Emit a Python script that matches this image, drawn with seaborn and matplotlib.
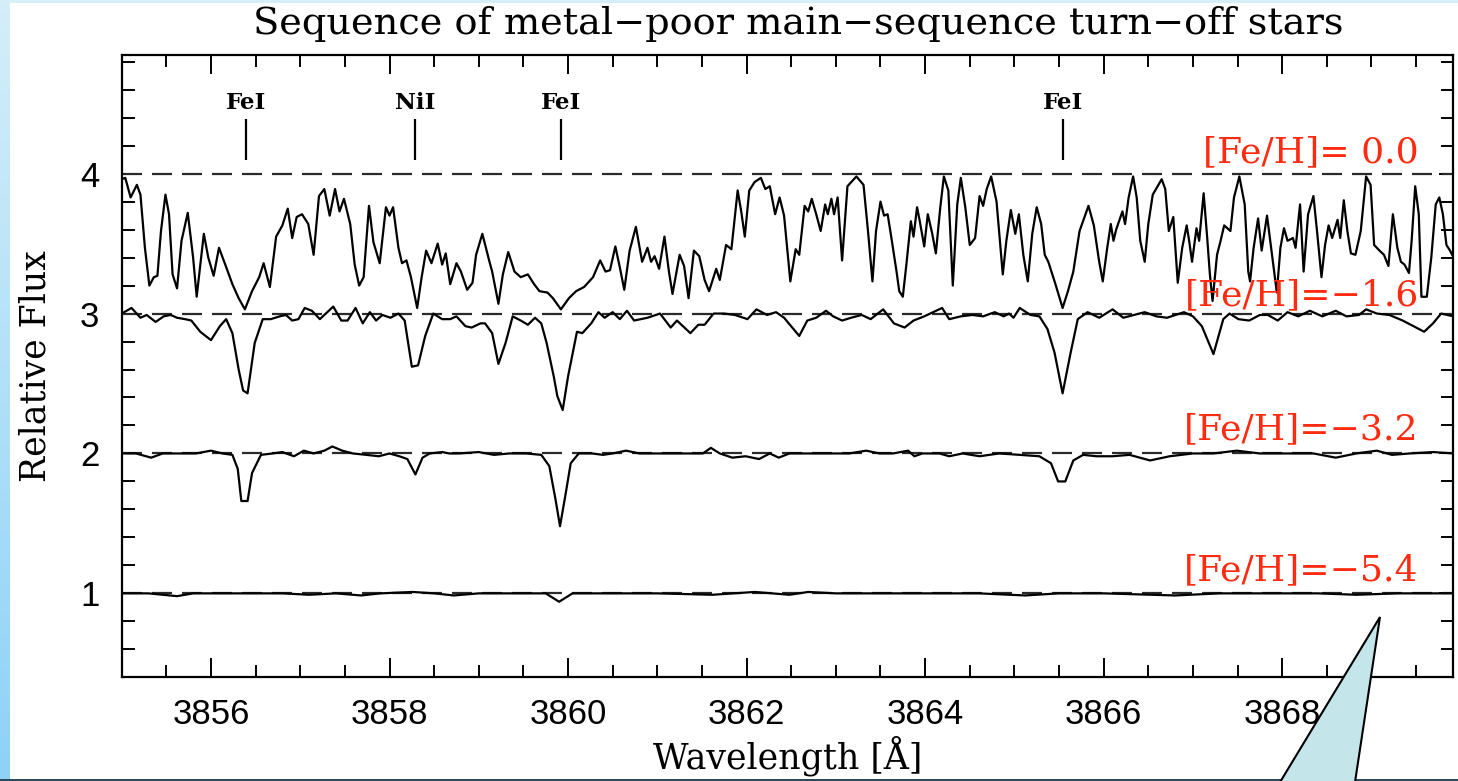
import numpy as np
import pandas as pd
import matplotlib
matplotlib.use("Agg")
import matplotlib.pyplot as plt
import seaborn as sns
from matplotlib.ticker import MultipleLocator, FormatStrFormatter
from matplotlib.patches import Polygon, Rectangle
from matplotlib.colors import LinearSegmentedColormap

# ---------------- data ----------------
wl_fe00 = [3855.00, 3855.04, 3855.10, 3855.17, 3855.21, 3855.26, 3855.31, 3855.36, 3855.40, 3855.44,
           3855.49, 3855.53, 3855.57, 3855.62, 3855.67, 3855.74, 3855.80, 3855.84, 3855.92, 3855.97,
           3856.03, 3856.09, 3856.16, 3856.24, 3856.31, 3856.38, 3856.46, 3856.54, 3856.59, 3856.66,
           3856.73, 3856.80, 3856.86, 3856.91, 3856.96, 3857.02, 3857.09, 3857.15, 3857.21, 3857.27,
           3857.33, 3857.39, 3857.44, 3857.49, 3857.56, 3857.61, 3857.66, 3857.71, 3857.77, 3857.82,
           3857.89, 3857.96, 3858.00, 3858.04, 3858.10, 3858.14, 3858.19, 3858.24, 3858.31, 3858.36,
           3858.41, 3858.47, 3858.54, 3858.59, 3858.63, 3858.68, 3858.75, 3858.80, 3858.87, 3858.93,
           3858.97, 3859.04, 3859.12, 3859.15, 3859.22, 3859.27, 3859.33, 3859.40, 3859.47, 3859.55,
           3859.62, 3859.68, 3859.77, 3859.83, 3859.92, 3860.01, 3860.09, 3860.18, 3860.28, 3860.36,
           3860.42, 3860.47, 3860.53, 3860.58, 3860.63, 3860.69, 3860.76, 3860.83, 3860.89, 3860.93,
           3860.97, 3861.02, 3861.08, 3861.13, 3861.17, 3861.25, 3861.30, 3861.35, 3861.41, 3861.47,
           3861.53, 3861.58, 3861.66, 3861.70, 3861.77, 3861.83, 3861.90, 3861.94, 3861.98, 3862.03,
           3862.09, 3862.16, 3862.21, 3862.26, 3862.32, 3862.37, 3862.42, 3862.49, 3862.55, 3862.59,
           3862.65, 3862.69, 3862.73, 3862.78, 3862.83, 3862.88, 3862.91, 3862.95, 3862.98, 3863.02,
           3863.07, 3863.13, 3863.23, 3863.31, 3863.36, 3863.41, 3863.45, 3863.50, 3863.54, 3863.58,
           3863.62, 3863.68, 3863.71, 3863.75, 3863.79, 3863.84, 3863.87, 3863.91, 3863.94, 3863.99,
           3864.03, 3864.08, 3864.12, 3864.17, 3864.21, 3864.26, 3864.31, 3864.36, 3864.40, 3864.45,
           3864.50, 3864.56, 3864.61, 3864.65, 3864.69, 3864.74, 3864.80, 3864.87, 3864.91, 3864.96,
           3865.01, 3865.05, 3865.10, 3865.15, 3865.20, 3865.25, 3865.30, 3865.34, 3865.38, 3865.46,
           3865.54, 3865.60, 3865.66, 3865.73, 3865.83, 3865.89, 3865.95, 3865.99, 3866.04, 3866.08,
           3866.11, 3866.14, 3866.21, 3866.24, 3866.28, 3866.33, 3866.37, 3866.41, 3866.46, 3866.50,
           3866.55, 3866.65, 3866.69, 3866.73, 3866.78, 3866.83, 3866.88, 3866.93, 3866.96, 3866.99,
           3867.04, 3867.07, 3867.12, 3867.16, 3867.19, 3867.22, 3867.27, 3867.31, 3867.35, 3867.42,
           3867.46, 3867.52, 3867.58, 3867.62, 3867.64, 3867.68, 3867.73, 3867.77, 3867.83, 3867.88,
           3867.94, 3867.98, 3868.02, 3868.06, 3868.12, 3868.15, 3868.20, 3868.24, 3868.29, 3868.35,
           3868.39, 3868.44, 3868.48, 3868.52, 3868.56, 3868.62, 3868.65, 3868.69, 3868.73, 3868.77,
           3868.82, 3868.88, 3868.94, 3868.99, 3869.03, 3869.09, 3869.14, 3869.19, 3869.24, 3869.29,
           3869.33, 3869.37, 3869.42, 3869.45, 3869.49, 3869.53, 3869.56, 3869.62, 3869.67, 3869.72,
           3869.76, 3869.80, 3869.84, 3869.88, 3869.92]
fx_fe00 = [0.96, 0.97, 0.83, 0.92, 0.85, 0.47, 0.20, 0.26, 0.27, 0.59,
           0.85, 0.71, 0.28, 0.18, 0.52, 0.72, 0.40, 0.12, 0.57, 0.40,
           0.27, 0.47, 0.35, 0.21, 0.11, 0.03, 0.16, 0.26, 0.36, 0.19,
           0.55, 0.63, 0.75, 0.54, 0.69, 0.71, 0.64, 0.42, 0.84, 0.89,
           0.70, 0.89, 0.73, 0.82, 0.64, 0.35, 0.20, 0.26, 0.77, 0.51,
           0.36, 0.76, 0.70, 0.76, 0.47, 0.36, 0.38, 0.26, 0.04, 0.26,
           0.45, 0.36, 0.50, 0.35, 0.43, 0.21, 0.36, 0.30, 0.17, 0.22,
           0.42, 0.57, 0.37, 0.30, 0.07, 0.28, 0.44, 0.30, 0.26, 0.28,
           0.21, 0.16, 0.15, 0.11, 0.03, 0.11, 0.16, 0.19, 0.26, 0.38,
           0.30, 0.31, 0.48, 0.33, 0.17, 0.45, 0.62, 0.37, 0.47, 0.37,
           0.41, 0.32, 0.55, 0.30, 0.14, 0.42, 0.34, 0.11, 0.45, 0.41,
           0.24, 0.16, 0.32, 0.24, 0.49, 0.46, 0.88, 0.73, 0.55, 0.88,
           0.94, 0.97, 0.89, 0.91, 0.71, 0.83, 0.70, 0.23, 0.46, 0.42,
           0.77, 0.73, 0.82, 0.71, 0.59, 0.78, 0.71, 0.82, 0.71, 0.83,
           0.38, 0.91, 0.98, 0.92, 0.59, 0.23, 0.59, 0.80, 0.70, 0.71,
           0.55, 0.30, 0.16, 0.12, 0.35, 0.66, 0.55, 0.76, 0.66, 0.48,
           0.71, 0.57, 0.43, 0.76, 0.98, 0.88, 0.20, 0.78, 0.97, 0.76,
           0.49, 0.54, 0.84, 0.77, 0.89, 0.98, 0.80, 0.28, 0.52, 0.74,
           0.57, 0.71, 0.42, 0.23, 0.57, 0.76, 0.64, 0.42, 0.37, 0.21,
           0.04, 0.16, 0.30, 0.59, 0.77, 0.63, 0.37, 0.23, 0.47, 0.64,
           0.52, 0.60, 0.73, 0.64, 0.83, 0.98, 0.83, 0.52, 0.37, 0.64,
           0.85, 0.96, 0.89, 0.59, 0.69, 0.22, 0.47, 0.63, 0.51, 0.37,
           0.61, 0.52, 0.86, 0.54, 0.28, 0.09, 0.42, 0.52, 0.63, 0.59,
           0.83, 0.98, 0.78, 0.30, 0.23, 0.47, 0.68, 0.45, 0.70, 0.45,
           0.15, 0.47, 0.61, 0.52, 0.54, 0.47, 0.78, 0.30, 0.71, 0.84,
           0.59, 0.26, 0.49, 0.63, 0.54, 0.67, 0.54, 0.81, 0.59, 0.43,
           0.42, 0.59, 0.98, 0.92, 0.49, 0.45, 0.42, 0.34, 0.71, 0.47,
           0.37, 0.35, 0.29, 0.52, 0.91, 0.71, 0.12, 0.12, 0.40, 0.78,
           0.83, 0.71, 0.49, 0.45, 0.40]

wl_fe16 = [3855.00, 3855.11, 3855.21, 3855.28, 3855.38, 3855.47, 3855.55, 3855.62, 3855.71, 3855.78,
           3855.88, 3856.00, 3856.10, 3856.17, 3856.24, 3856.31, 3856.36, 3856.41, 3856.49, 3856.58,
           3856.67, 3856.77, 3856.84, 3856.91, 3856.98, 3857.05, 3857.13, 3857.22, 3857.37, 3857.46,
           3857.53, 3857.62, 3857.70, 3857.78, 3857.85, 3857.92, 3858.01, 3858.10, 3858.17, 3858.25,
           3858.32, 3858.40, 3858.49, 3858.59, 3858.68, 3858.75, 3858.85, 3858.92, 3859.02, 3859.07,
           3859.15, 3859.22, 3859.30, 3859.38, 3859.47, 3859.55, 3859.63, 3859.70, 3859.76, 3859.84,
           3859.88, 3859.94, 3860.00, 3860.10, 3860.16, 3860.26, 3860.34, 3860.41, 3860.50, 3860.58,
           3860.66, 3860.74, 3860.89, 3861.03, 3861.15, 3861.22, 3861.37, 3861.46, 3861.53, 3861.63,
           3861.75, 3861.87, 3862.01, 3862.11, 3862.23, 3862.33, 3862.42, 3862.59, 3862.68, 3862.78,
           3862.89, 3862.97, 3863.07, 3863.17, 3863.29, 3863.39, 3863.53, 3863.65, 3863.77, 3863.87,
           3863.99, 3864.09, 3864.19, 3864.27, 3864.40, 3864.53, 3864.65, 3864.78, 3864.88, 3864.94,
           3864.99, 3865.06, 3865.18, 3865.28, 3865.37, 3865.45, 3865.54, 3865.63, 3865.71, 3865.82,
           3865.95, 3866.10, 3866.22, 3866.34, 3866.46, 3866.59, 3866.71, 3866.90, 3867.00, 3867.10,
           3867.23, 3867.34, 3867.41, 3867.51, 3867.63, 3867.75, 3867.84, 3867.95, 3868.06, 3868.18,
           3868.31, 3868.45, 3868.60, 3868.72, 3868.86, 3868.94, 3869.06, 3869.20, 3869.35, 3869.47,
           3869.59, 3869.69, 3869.78, 3869.92]
fx_fe16 = [1.00, 1.04, 0.97, 0.99, 0.94, 0.98, 0.99, 0.97, 0.96, 0.95,
           0.87, 0.81, 0.91, 0.96, 0.86, 0.60, 0.45, 0.43, 0.79, 0.96,
           0.96, 0.98, 0.99, 0.95, 0.96, 1.04, 1.02, 0.96, 1.05, 0.95,
           0.95, 1.04, 0.93, 1.01, 0.95, 0.99, 0.97, 1.00, 0.95, 0.62,
           0.63, 0.84, 1.00, 0.96, 0.96, 0.98, 0.91, 0.90, 0.93, 0.93,
           0.86, 0.64, 0.79, 0.98, 0.95, 0.92, 0.97, 0.93, 0.79, 0.55,
           0.41, 0.31, 0.55, 0.87, 0.86, 0.93, 1.01, 0.97, 1.01, 0.96,
           1.02, 0.95, 0.97, 1.00, 0.90, 0.95, 0.86, 0.92, 0.92, 1.00,
           1.00, 0.99, 0.96, 1.03, 0.99, 1.01, 0.97, 0.84, 0.95, 0.97,
           1.02, 0.98, 0.95, 0.97, 0.99, 0.96, 1.03, 0.93, 0.90, 0.95,
           0.98, 1.01, 1.04, 0.96, 0.98, 0.99, 0.98, 1.01, 0.98, 1.00,
           0.97, 1.04, 0.99, 0.98, 0.89, 0.72, 0.43, 0.72, 0.96, 1.01,
           0.97, 1.03, 0.97, 0.99, 1.01, 0.98, 0.97, 1.01, 0.98, 0.91,
           0.71, 0.96, 1.00, 0.96, 0.95, 0.99, 0.99, 0.95, 1.01, 0.98,
           1.02, 0.98, 1.02, 0.98, 0.99, 1.03, 1.00, 0.99, 0.95, 0.91,
           0.87, 0.93, 1.00, 0.98]

wl_fe32 = [3855.00, 3855.16, 3855.33, 3855.46, 3855.64, 3855.83, 3856.00, 3856.13, 3856.24, 3856.30,
           3856.34, 3856.41, 3856.46, 3856.56, 3856.69, 3856.80, 3856.93, 3857.04, 3857.15, 3857.27,
           3857.36, 3857.47, 3857.59, 3857.74, 3857.88, 3858.00, 3858.11, 3858.20, 3858.29, 3858.37,
           3858.45, 3858.59, 3858.67, 3858.78, 3859.00, 3859.17, 3859.34, 3859.53, 3859.70, 3859.79,
           3859.86, 3859.91, 3859.97, 3860.03, 3860.12, 3860.27, 3860.39, 3860.50, 3860.65, 3860.80,
           3860.98, 3861.17, 3861.40, 3861.51, 3861.60, 3861.70, 3861.84, 3861.99, 3862.14, 3862.26,
           3862.36, 3862.48, 3862.67, 3862.82, 3862.97, 3863.15, 3863.34, 3863.49, 3863.64, 3863.81,
           3863.88, 3863.97, 3864.16, 3864.27, 3864.42, 3864.61, 3864.83, 3865.06, 3865.28, 3865.41,
           3865.49, 3865.57, 3865.66, 3865.77, 3865.92, 3866.10, 3866.29, 3866.52, 3866.74, 3867.00,
           3867.23, 3867.49, 3867.75, 3868.05, 3868.35, 3868.60, 3868.83, 3869.06, 3869.23, 3869.43,
           3869.69, 3869.92]
fx_fe32 = [1.00, 1.00, 0.97, 1.00, 1.00, 1.00, 1.02, 1.00, 0.99, 0.89,
           0.66, 0.66, 0.86, 0.99, 1.00, 1.01, 0.98, 1.02, 1.00, 1.02,
           1.05, 1.02, 1.00, 0.99, 0.98, 1.00, 0.98, 0.96, 0.85, 0.97,
           1.00, 1.01, 1.00, 1.00, 1.01, 0.99, 1.00, 1.00, 0.99, 0.91,
           0.67, 0.48, 0.70, 0.93, 1.00, 1.00, 0.99, 1.00, 1.02, 1.00,
           1.00, 1.00, 1.00, 1.00, 1.04, 1.00, 0.97, 0.98, 0.96, 1.00,
           0.97, 1.00, 1.00, 1.00, 1.00, 1.00, 1.02, 1.00, 1.00, 1.02,
           0.98, 1.00, 1.00, 0.98, 1.00, 0.98, 1.00, 0.99, 0.98, 0.93,
           0.80, 0.80, 0.95, 0.99, 0.98, 0.98, 0.99, 0.95, 0.98, 1.00,
           1.00, 1.02, 1.00, 1.00, 1.00, 0.97, 1.00, 1.02, 0.99, 1.00,
           1.01, 1.00]

wl_fe54 = [3855.00, 3855.30, 3855.62, 3855.80, 3856.10, 3856.50, 3856.80, 3857.10, 3857.40, 3857.68,
           3857.90, 3858.26, 3858.50, 3858.72, 3859.00, 3859.40, 3859.75, 3859.90, 3860.05, 3860.50,
           3861.00, 3861.62, 3862.09, 3862.48, 3862.69, 3863.00, 3863.50, 3864.00, 3864.60, 3865.12,
           3865.50, 3866.00, 3866.80, 3867.30, 3867.90, 3868.40, 3868.83, 3869.30, 3869.92]
fx_fe54 = [1.00, 1.00, 0.98, 1.00, 1.00, 1.00, 1.00, 0.99, 1.00, 0.985,
           1.00, 1.01, 1.00, 0.985, 1.00, 1.00, 1.00, 0.94, 1.00, 1.00,
           1.00, 0.99, 1.01, 0.99, 1.01, 1.00, 1.00, 1.00, 1.00, 0.985,
           1.00, 1.00, 0.985, 1.00, 1.00, 1.00, 0.99, 1.00, 1.00]

star_labels = ["[Fe/H]= 0.0", "[Fe/H]=\u22121.6", "[Fe/H]=\u22123.2", "[Fe/H]=\u22125.4"]
offsets = [3, 2, 1, 0]
label_y = [4.08, 3.06, 2.10, 1.09]

line_names = ["FeI", "NiI", "FeI", "FeI"]
line_wl = [3856.39, 3858.29, 3859.92, 3865.55]

# ---------------- assemble ----------------
frames = []
for lab, off, wl, fx in zip(star_labels, offsets,
                            [wl_fe00, wl_fe16, wl_fe32, wl_fe54],
                            [fx_fe00, fx_fe16, fx_fe32, fx_fe54]):
    frames.append(pd.DataFrame({"wavelength": wl,
                                "flux": np.asarray(fx) + off,
                                "star": lab}))
df = pd.concat(frames, ignore_index=True)

sns.set_style("ticks")
plt.rcParams["font.family"] = ["DejaVu Serif"]
plt.rcParams["text.color"] = "black"
plt.rcParams["axes.labelcolor"] = "black"
plt.rcParams["xtick.color"] = "black"
plt.rcParams["ytick.color"] = "black"
plt.rcParams["xtick.labelcolor"] = "black"
plt.rcParams["ytick.labelcolor"] = "black"

W, H = 1458, 781
fig = plt.figure(figsize=(W / 100, H / 100), dpi=100)
fig.patch.set_facecolor("white")

ax = fig.add_axes([121.7 / W, 1 - 677.3 / H, (1452.7 - 121.7) / W, (677.3 - 55.3) / H])
ax.set_facecolor("white")

# dashed continuum lines
for off in offsets:
    ax.axhline(off + 1, color="#2a2a2a", lw=1.6, ls=(0, (9, 4.5)), zorder=1)

sns.lineplot(data=df, x="wavelength", y="flux", units="star", estimator=None,
             sort=False, color="black", lw=1.6, ax=ax, zorder=2, legend=False)

ax.set_xlim(3855, 3869.91)
ax.set_ylim(0.4, 4.846)

# line identifications
ax.vlines(line_wl, 4.10, 4.39, color="black", lw=1.6, zorder=3)
for nm, w in zip(line_names, line_wl):
    ax.text(w, 4.425, nm, ha="center", va="bottom", fontsize=16.5,
            fontweight="bold", family="DejaVu Serif", color="black", zorder=3)

for lab, y in zip(star_labels, label_y):
    ax.text(3869.53, y, lab, ha="right", va="baseline", fontsize=26,
            color="#ff2a10", family="DejaVu Serif", zorder=4)

# axes styling
ax.xaxis.set_major_locator(MultipleLocator(2))
ax.xaxis.set_minor_locator(MultipleLocator(0.5))
ax.yaxis.set_major_locator(MultipleLocator(1))
ax.yaxis.set_minor_locator(MultipleLocator(0.2))
ax.xaxis.set_major_formatter(FormatStrFormatter("%d"))
ax.yaxis.set_major_formatter(FormatStrFormatter("%d"))
ax.tick_params(which="both", direction="in", top=True, right=True,
               width=1.4, color="black", labelcolor="black")
ax.tick_params(axis="x", which="major", length=14, pad=15)
ax.tick_params(axis="x", which="minor", length=8.5)
ax.tick_params(axis="y", which="major", length=10, pad=16)
ax.tick_params(axis="y", which="minor", length=9)
for t in ax.get_xticklabels() + ax.get_yticklabels():
    t.set_family("Liberation Sans")
    t.set_fontsize(25)
for s in ax.spines.values():
    s.set_linewidth(1.6)
    s.set_color("black")

ax.set_xlabel("Wavelength [\u00c5]", fontsize=25, family="DejaVu Serif", color="black")
ax.set_ylabel("Relative Flux", fontsize=25, family="DejaVu Serif", color="black")
ax.xaxis.set_label_coords(0.5, -0.093)
ax.yaxis.set_label_coords(-0.052, 0.5)

fig.text(798 / W, 1 - 24 / H, "Sequence of metal\u2212poor main\u2212sequence turn\u2212off stars",
         ha="center", va="center", fontsize=27.5, family="DejaVu Serif", color="black")

# slide decoration: left gradient strip, top strip, bottom edge
strip = fig.add_axes([0, 0, 10 / W, 1])
grad = np.linspace(0, 1, 256).reshape(-1, 1)
cmap = LinearSegmentedColormap.from_list("sb", ["#d4eefa", "#8ed2f6"])
strip.imshow(grad, aspect="auto", cmap=cmap, origin="upper")
strip.set_axis_off()
fig.add_artist(Rectangle((0, 1 - 3 / H), 1, 3 / H, transform=fig.transFigure,
                         facecolor="#d6eef8", edgecolor="none"))
fig.add_artist(Rectangle((0, 0), 1, 2 / H, transform=fig.transFigure,
                         facecolor="#2b4b5e", edgecolor="none"))

# callout wedge
fig.add_artist(Polygon([(1380 / W, 1 - 617 / H), (1354 / W, -0.01), (1276 / W, -0.01)],
                       closed=True, transform=fig.transFigure, facecolor="#c4e5e9",
                       edgecolor="black", lw=1.5, zorder=5))

fig.savefig("out.png", dpi=100)
